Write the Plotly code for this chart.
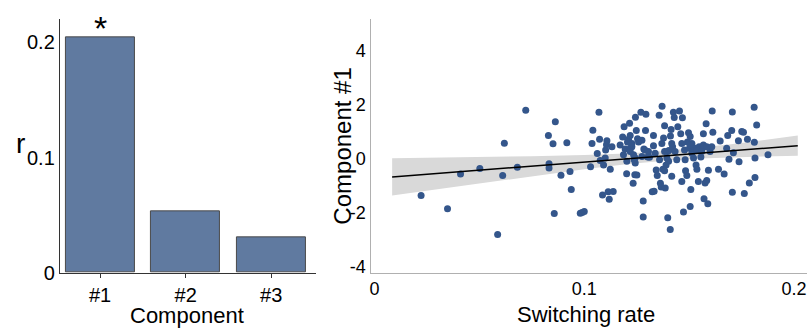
import plotly.graph_objects as go

# ---- Left panel: correlation r per component ----
components = ["#1", "#2", "#3"]
r_values = [0.204, 0.053, 0.031]

# ---- Right panel: switching rate vs component #1 ----
switch_rate = [
    0.0222, 0.0348, 0.0410, 0.0502, 0.0587, 0.0611, 0.0619, 0.0681, 0.0721, 0.0829,
    0.0832, 0.0832, 0.0851, 0.0857, 0.0862, 0.0889, 0.0917, 0.0932, 0.0938, 0.0981,
    0.0990, 0.1000, 0.1030, 0.1037, 0.1041, 0.1062, 0.1070, 0.1073, 0.1076, 0.1087,
    0.1092, 0.1100, 0.1102, 0.1106, 0.1108, 0.1114, 0.1119, 0.1124, 0.1132, 0.1138,
    0.1171, 0.1183, 0.1187, 0.1190, 0.1195, 0.1202, 0.1203, 0.1211, 0.1216, 0.1219,
    0.1227, 0.1233, 0.1238, 0.1241, 0.1244, 0.1248, 0.1254, 0.1259, 0.1270, 0.1275,
    0.1281, 0.1281, 0.1284, 0.1289, 0.1292, 0.1294, 0.1302, 0.1311, 0.1324, 0.1330,
    0.1333, 0.1338, 0.1343, 0.1348, 0.1357, 0.1359, 0.1363, 0.1367, 0.1371, 0.1375,
    0.1378, 0.1383, 0.1386, 0.1390, 0.1397, 0.1398, 0.1403, 0.1410, 0.1411, 0.1414,
    0.1417, 0.1421, 0.1425, 0.1429, 0.1433, 0.1441, 0.1446, 0.1454, 0.1460, 0.1465,
    0.1468, 0.1473, 0.1478, 0.1483, 0.1489, 0.1492, 0.1497, 0.1502, 0.1505, 0.1508,
    0.1513, 0.1517, 0.1529, 0.1533, 0.1537, 0.1544, 0.1548, 0.1556, 0.1562, 0.1568,
    0.1571, 0.1576, 0.1581, 0.1584, 0.1589, 0.1592, 0.1600, 0.1608, 0.1610, 0.1613,
    0.1640, 0.1648, 0.1667, 0.1679, 0.1684, 0.1690, 0.1703, 0.1706, 0.1706, 0.1711,
    0.1735, 0.1738, 0.1751, 0.1759, 0.1763, 0.1778, 0.1787, 0.1810, 0.1811, 0.1814,
    0.1814, 0.1822, 0.1876,
    0.1505, 0.1330, 0.1505, 0.1568, 0.1584, 0.1370, 0.1417, 0.1465, 0.1306, 0.1275,
    0.1383, 0.1513, 0.1537, 0.1560, 0.1243, 0.1394, 0.1402, 0.1481, 0.1521, 0.1243,
    0.1383, 0.1251, 0.1219, 0.1206, 0.1227, 0.1219, 0.1235,
]
component1 = [
    -1.37, -1.86, -0.57, -0.37, -2.81, -0.63, 0.57, -0.32, 1.79, 0.86,
    -0.19, -0.35, 0.55, -2.03, 1.37, -0.62, 0.59, -0.48, -1.14, -2.02,
    -2.00, -1.96, -0.30, 0.56, 1.05, 0.19, 1.72, 0.72, -0.07, -1.35,
    -0.24, 0.02, 0.32, 0.51, 0.66, -1.23, -1.51, -0.39, 0.44, -1.22,
    0.50, 0.80, 0.14, 1.18, 0.36, -0.56, -0.10, 0.72, 1.31, 0.38,
    0.44, -0.91, -0.04, -0.60, 1.53, 1.04, 0.74, 0.62, 1.72, 0.68,
    -1.57, -2.16, 0.36, 0.32, 1.04, 1.64, 0.06, 0.05, -1.23, 0.48,
    -1.21, 0.20, -0.42, -0.63, 1.61, -0.04, -0.91, -1.05, 1.94, -0.39,
    0.76, 1.22, -1.09, -0.24, 0.26, -2.19, 0.30, -2.63, 0.84, 1.08,
    -0.65, 0.44, 1.72, 1.52, 0.26, -0.04, 1.18, 1.76, 0.92, -0.85,
    1.51, -1.98, 0.32, -0.45, -0.63, 0.62, 0.96, 0.38, -1.77, -1.14,
    0.56, 0.38, 0.38, -0.24, -0.39, -0.85, 0.44, 0.06, 0.38, 0.92,
    -1.49, -0.90, 1.29, -0.81, -1.67, -0.43, 0.26, 0.44, 1.76, 0.98,
    -0.39, 0.65, -0.57, 0.38, 0.86, -0.02, 1.04, 1.73, -1.25, 0.22,
    0.66, -0.12, 1.00, 0.98, -1.29, 0.72, -0.90, 1.90, 0.61, 0.02,
    -0.70, 1.25, 0.14,
    0.82, 0.86, 0.50, 0.50, 0.44, 0.56, 0.56, 0.56, 0.26, 0.08,
    0.26, 0.20, 0.30, 0.26, 0.02, 0.02, -0.10, -0.04, 0.02, -0.16,
    -0.45, -0.61, 0.86, 0.62, 0.56, 0.26, 0.14,
]

# regression line and confidence band
fit_x = [0.0084, 0.2018]
fit_y = [-0.68, 0.48]
band_x = [0.0084, 0.025, 0.05, 0.075, 0.10, 0.12, 0.137, 0.155, 0.17, 0.185, 0.2018]
band_lo = [-1.37, -1.19, -0.91, -0.65, -0.39, -0.21, -0.09, 0.00, 0.045, 0.08, 0.104]
band_hi = [0.01, 0.026, 0.05, 0.088, 0.13, 0.19, 0.27, 0.40, 0.535, 0.68, 0.856]

FONT = "Liberation Sans, Arial, sans-serif"
BAR_COLOR = "#607aa0"
DOT_COLOR = "#34568b"

W, H = 810, 336


def fy(px_from_top):
    return 1 - px_from_top / H


fig = go.Figure()

fig.add_trace(go.Bar(
    x=components, y=r_values, width=0.81,
    marker=dict(color=BAR_COLOR, line=dict(color="#4a4a4a", width=1)),
    xaxis="x", yaxis="y", showlegend=False,
))

fig.add_trace(go.Scatter(
    x=band_x, y=band_lo, mode="lines", line=dict(width=0, color="rgba(0,0,0,0)"),
    xaxis="x2", yaxis="y2", showlegend=False, hoverinfo="skip",
))
fig.add_trace(go.Scatter(
    x=band_x, y=band_hi, mode="lines", line=dict(width=0, color="rgba(0,0,0,0)"),
    fill="tonexty", fillcolor="#d9d9d9",
    xaxis="x2", yaxis="y2", showlegend=False, hoverinfo="skip",
))
fig.add_trace(go.Scatter(
    x=switch_rate, y=component1, mode="markers",
    marker=dict(color=DOT_COLOR, size=7),
    xaxis="x2", yaxis="y2", showlegend=False,
))
fig.add_trace(go.Scatter(
    x=fit_x, y=fit_y, mode="lines", line=dict(color="black", width=1.5),
    xaxis="x2", yaxis="y2", showlegend=False,
))

left_tick_font = dict(family=FONT, size=20, color="black")
right_tick_font = dict(family=FONT, size=18, color="black")
title_font = dict(family=FONT, size=22, color="black")

fig.update_layout(
    width=W, height=H, autosize=False,
    margin=dict(l=0, r=0, t=0, b=0, pad=0),
    paper_bgcolor="white", plot_bgcolor="white",
    font=dict(family=FONT, color="black"),
    bargap=0,
    xaxis=dict(
        domain=[59/810, 315/810], range=[-0.47, 2.52],
        type="category", showline=True, linecolor="#333333", linewidth=1.2,
        ticks="outside", ticklen=4, tickcolor="#333333", showgrid=False,
        tickfont=left_tick_font, anchor="y", zeroline=False,
    ),
    yaxis=dict(
        domain=[fy(282), fy(20)], range=[0, 0.22],
        tickvals=[0, 0.1, 0.2], ticktext=["0", "0.1", "0.2"],
        showline=True, linecolor="#333333", linewidth=1.2,
        ticks="", showgrid=False, zeroline=False, tickfont=left_tick_font, anchor="x",
    ),
    xaxis2=dict(
        domain=[370/810, 807/810], range=[-0.0019, 0.2062],
        tickvals=[0, 0.1, 0.2], ticktext=["0", "0.1", "0.2"],
        showline=True, linecolor="#b0b0b0", linewidth=1.2,
        ticks="", showgrid=False, zeroline=False, tickfont=right_tick_font, anchor="y2",
    ),
    yaxis2=dict(
        domain=[fy(282), fy(20)], range=[-4.23, 5.16],
        tickvals=[-4, -2, 0, 2, 4], ticktext=["-4", "-2", "0", "2", "4"],
        showline=True, linecolor="#b0b0b0", linewidth=1.2,
        ticks="", showgrid=False, zeroline=False, tickfont=right_tick_font, anchor="x2",
    ),
    annotations=[
        dict(text="*", x="#1", xref="x", y=fy(29), yref="paper",
             showarrow=False, font=dict(family=FONT, size=34, color="black"),
             xanchor="center", yanchor="middle"),
        dict(text="r", x=19.5/810, y=fy(148), xref="paper", yref="paper",
             showarrow=False, font=dict(family=FONT, size=28, color="black"),
             xanchor="center", yanchor="middle"),
        dict(text="Component", x=186/810, y=fy(326), xref="paper", yref="paper",
             showarrow=False, font=title_font, xanchor="center", yanchor="middle"),
        dict(text="Switching rate", x=586/810, y=fy(325), xref="paper", yref="paper",
             showarrow=False, font=title_font, xanchor="center", yanchor="middle"),
        dict(text="Component #1", x=341/810, y=fy(151), xref="paper", yref="paper",
             showarrow=False, font=dict(family=FONT, size=24, color="black"),
             textangle=-90, xanchor="center", yanchor="middle"),
    ],
)

fig.write_html("out.html", config={"responsive": False})
